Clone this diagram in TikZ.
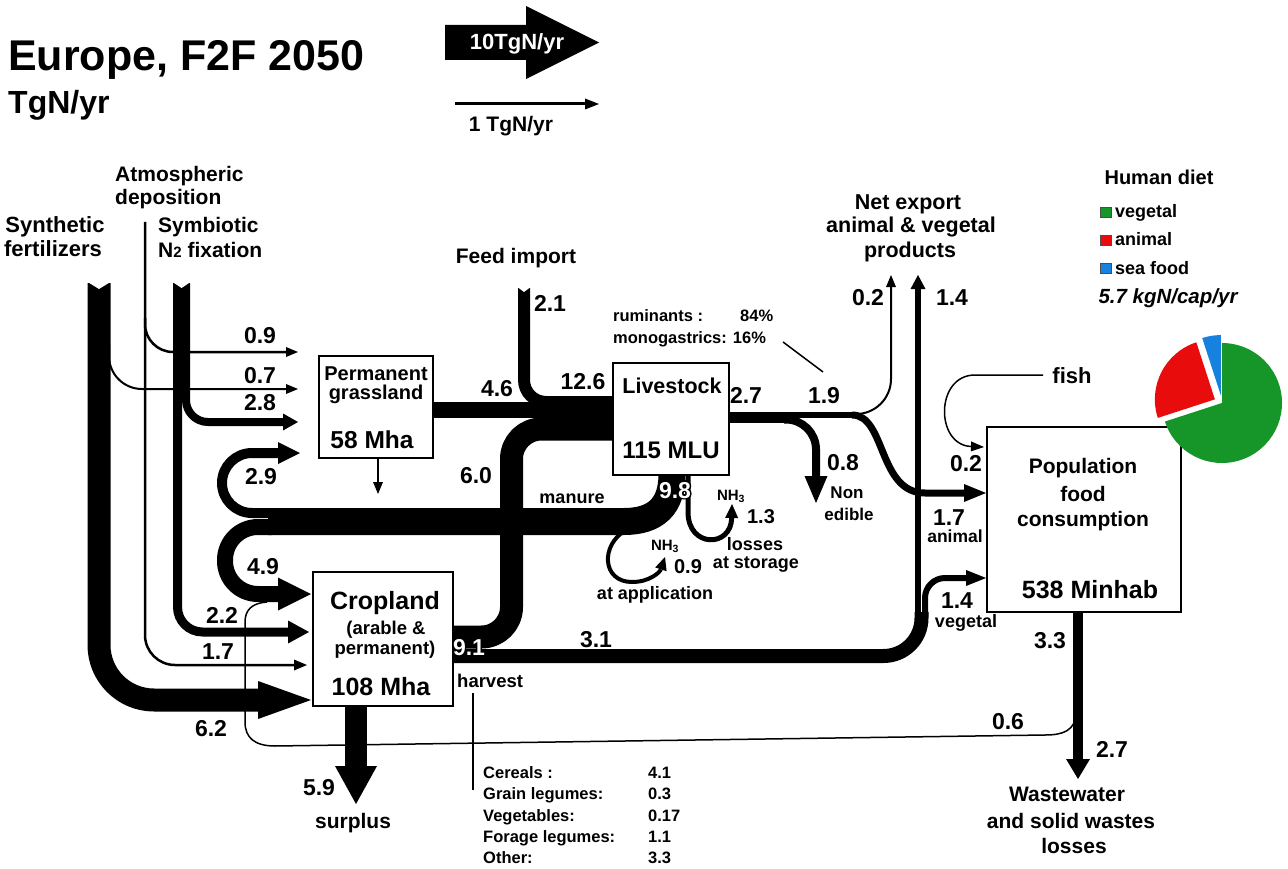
\documentclass[tikz,border=0pt]{standalone}
\usepackage{fontspec}
\setmainfont{Liberation Sans}
\usetikzlibrary{arrows.meta}
\definecolor{pgreen}{RGB}{22,150,40}
\definecolor{pred}{RGB}{232,12,12}
\definecolor{pblue}{RGB}{22,130,222}
\newcommand{\fsz}[1]{\fontsize{#1}{#1}\selectfont\bfseries}
\begin{document}
\begin{tikzpicture}[x=1pt,y=-1pt,
  fl/.style={line cap=butt,line join=round},
  ahead/.style 2 args={-{Triangle[length=#1pt,width=#2pt,line width=0pt]}},
  box/.style={draw=black,line width=1.8pt,fill=white,inner sep=0pt},
  num/.style={inner sep=0pt,anchor=base,font=\fsz{23}},
  txt/.style={inner sep=0pt,anchor=base},
  thin/.style={fl,line width=1.5pt},
]
\fill[white] (0,0) rectangle (1288,869);
\useasboundingbox (0,0) rectangle (1288,869);

% ---------- named coordinates ----------
\coordinate (sfTop) at (99,283);   \coordinate (sfEnd) at (311,700);
\coordinate (sfBr) at (109,345);   \coordinate (gIn2) at (298,389);
\coordinate (adTop) at (145,222);  \coordinate (adEnd) at (307,665);
\coordinate (adBr) at (145,318);   \coordinate (gIn1) at (298,352);
\coordinate (syTopA) at (186,283); \coordinate (gIn3) at (298,422);
\coordinate (syTopB) at (177.5,283); \coordinate (cIn2) at (309,632);
\coordinate (fiTop) at (524,288);  \coordinate (lsIn1) at (614,402);
\coordinate (grOut) at (432,410);  \coordinate (lsIn2) at (614,410);
\coordinate (crOut1) at (452,637); \coordinate (lsIn3) at (614,429);
\coordinate (crOut2) at (452,656); \coordinate (vBase) at (921.5,612);
\coordinate (neBase) at (918,616); \coordinate (neTip) at (918,275);
\coordinate (vgBase) at (925,616); \coordinate (popIn3) at (986,578);
\coordinate (lsOut) at (728,417.5); \coordinate (spl) at (792,417.5);
\coordinate (s19a) at (788,415);   \coordinate (s19b) at (856,415);
\coordinate (s08) at (784,419.5);  \coordinate (neTip2) at (816,503);
\coordinate (s02) at (850,414);    \coordinate (neTip3) at (891,275);
\coordinate (s17) at (852,415);    \coordinate (popIn1) at (986,493);
\coordinate (mnTop) at (672,474);  \coordinate (mnEnd) at (268,521.5);
\coordinate (lpA) at (272,513);    \coordinate (gIn4) at (300,453);
\coordinate (lpB) at (272,527);    \coordinate (cIn1) at (311,594);
\coordinate (stA) at (688,474);    \coordinate (stB) at (732,504);
\coordinate (apA) at (626,530);    \coordinate (apB) at (665,557);
\coordinate (grDn) at (378,459);   \coordinate (grDnE) at (378,494);
\coordinate (suA) at (356,705);    \coordinate (suB) at (356,804);
\coordinate (ppA) at (1078,612);   \coordinate (ppB) at (1078,779);
\coordinate (rcA) at (1077,712);   \coordinate (rcB) at (267,602);
\coordinate (fiA) at (1043,375);   \coordinate (popIn2) at (984,447);
\coordinate (hvA) at (473,693);    \coordinate (hvB) at (473,790);
\coordinate (ruA) at (783,342);    \coordinate (ruB) at (823,372);
\coordinate (lgA) at (455,104);    \coordinate (lgB) at (599,104);

% ---------- flows ----------
\draw[fl,line width=23pt,ahead={53}{38},rounded corners=55pt] (sfTop) -- (99,700) -- (sfEnd);
\draw[fl,line width=2pt,ahead={12}{10},rounded corners=33pt] (sfBr) -- (109,389) -- (gIn2);
\draw[fl,line width=2.5pt,ahead={13}{11},rounded corners=30pt] (adTop) -- (145,665) -- (adEnd);
\draw[fl,line width=2.5pt,ahead={12}{10},rounded corners=28pt] (adBr) -- (145,352) -- (gIn1);
\draw[fl,line width=8pt,ahead={15}{17},rounded corners=22pt] (syTopA) -- (186,422) -- (gIn3);
\draw[fl,line width=9pt,ahead={21}{23},rounded corners=25pt] (syTopB) -- (177.5,632) -- (cIn2);
% notches
\fill[white] (86,281) -- (99,289) -- (112,281) -- cycle;
\fill[white] (171,281) -- (181.5,288) -- (192,281) -- cycle;

% feed, grassland, cropland -> livestock
\draw[fl,line width=12pt,rounded corners=22pt] (fiTop) -- (524,402) -- (lsIn1);
\fill[white] (516,286) -- (524,292) -- (532,286) -- cycle;
\draw[fl,line width=16pt] (grOut) -- (lsIn2);
\draw[fl,line width=23pt,rounded corners=30pt] (crOut1) -- (511.5,637) -- (511.5,429) -- (lsIn3);

% 3.1 harvest to export / population
\draw[fl,line width=14pt,rounded corners=38pt] (crOut2) -- (921.5,656) -- (vBase);
\draw[fl,line width=6pt,ahead={14}{15}] (neBase) -- (neTip);
\draw[fl,line width=6pt,ahead={20}{16},rounded corners=20pt] (vgBase) -- (925,578) -- (popIn3);

% livestock products
\draw[fl,line width=11pt] (lsOut) -- (spl);
\draw[fl,line width=6pt] (s19a) -- (s19b);
\draw[fl,line width=8pt,ahead={27}{23},rounded corners=30pt] (s08) -- (816,419.5) -- (neTip2);
\draw[fl,line width=2pt,ahead={12}{10},rounded corners=35pt] (s02) -- (891,414) -- (neTip3);
\draw[fl,line width=7pt,ahead={22}{18}] (s17) .. controls (886,415) and (878,493) .. (925,493) -- (popIn1);

% manure
\draw[fl,line width=27pt] (mnTop) .. controls (672,506) and (656,521.5) .. (624,521.5) -- (mnEnd);
\draw[fl,line width=10pt,ahead={22}{22},rounded corners=30pt] (lpA) -- (222,513) -- (222,453) -- (gIn4);
\draw[fl,line width=16pt,ahead={33}{33},rounded corners=33pt] (lpB) -- (225,527) -- (225,594) -- (cIn1);
\draw[fl,line width=5pt,ahead={14}{13}] (stA) -- (688,512) .. controls (688,548) and (731,548) .. (stB);
\draw[fl,line width=4pt,ahead={13}{12}] (apA) .. controls (600,545) and (602,582) .. (632,582) .. controls (650,582) and (660,572) .. (apB);

% other flows
\draw[fl,line width=2pt,ahead={12}{10}] (grDn) -- (grDnE);
\draw[fl,line width=22pt,ahead={38}{42}] (suA) -- (suB);
\draw[fl,line width=9.5pt,ahead={20}{24}] (ppA) -- (ppB);
\draw[thin] (rcA) .. controls (1075,731) and (1063,735) .. (1045,735) -- (275,746)
  .. controls (255,746) and (245,738) .. (245,722) -- (245,622)
  .. controls (245,610) and (252,603) .. (rcB);
\draw[thin,ahead={13}{10}] (fiA) -- (975,375) .. controls (935,375) and (935,445) .. (popIn2);
\draw[thin] (hvA) -- (hvB);
\draw[thin] (ruA) -- (ruB);

% legend arrows
\fill[black] (445,25) -- (526,25) -- (526,6) -- (599,42.5) -- (526,79) -- (526,60) -- (445,60) -- cycle;
\node[txt,white,font=\fsz{22}] (l10) at (517,50) {10TgN/yr};
\draw[fl,line width=3pt,ahead={14}{11}] (lgA) -- (lgB);
\node[txt,font=\fsz{21}] (l1) at (511,132) {1 TgN/yr};

% ---------- boxes ----------
\node[box,minimum width=114pt,minimum height=102pt] (grass) at (376,407) {};
\node[box,minimum width=116pt,minimum height=112pt] (live) at (671,419) {};
\node[box,minimum width=140pt,minimum height=134pt] (crop) at (383,639) {};
\node[box,minimum width=194pt,minimum height=185pt] (pop) at (1084,519.5) {};

\node[txt,font=\fsz{20}] (gt1) at (376,380) {Permanent};
\node[txt,font=\fsz{20}] (gt2) at (376,399) {grassland};
\node[txt,font=\fsz{24.5}] (gt3) at (372,448) {58 Mha};
\node[txt,font=\fsz{21.5}] (lt1) at (672,393) {Livestock};
\node[txt,font=\fsz{24}] (lt2) at (671,458) {115 MLU};
\node[txt,font=\fsz{25}] (ct1) at (385,609) {Cropland};
\node[txt,font=\fsz{18.5}] (ct2) at (386,634) {(arable \&};
\node[txt,font=\fsz{18.5}] (ct3) at (385,654) {permanent)};
\node[txt,font=\fsz{25}] (ct4) at (381,695) {108 Mha};
\node[txt,font=\fsz{21}] (pt1) at (1083,473) {Population};
\node[txt,font=\fsz{21}] (pt2) at (1083,501) {food};
\node[txt,font=\fsz{21}] (pt3) at (1083,526) {consumption};
\node[txt,font=\fsz{25}] (pt4) at (1090,598) {538 Minhab};

% ---------- pie ----------
\begin{scope}[shift={(1222,403)},yscale=-1]
  \fill[pgreen] (0,0) -- (-162:60) arc[start angle=-162,end angle=90,radius=60] -- cycle;
  \fill[pred] (153:8) -- ++(108:60) arc[start angle=108,end angle=198,radius=60] -- cycle;
  \fill[pblue] (99:8) -- ++(90:60) arc[start angle=90,end angle=108,radius=60] -- cycle;
\end{scope}

% ---------- titles and labels ----------
\node[txt,anchor=base west,font=\fsz{43}] (title) at (8,71) {Europe, F2F 2050};
\node[txt,anchor=base west,font=\fsz{32}] (unit) at (8,114) {TgN/yr};

\node[txt,font=\fsz{22}] (s1) at (55,233) {Synthetic};
\node[txt,font=\fsz{22}] (s2) at (53,257) {fertilizers};
\node[txt,anchor=base west,font=\fsz{21}] (a1) at (115,182) {Atmospheric};
\node[txt,anchor=base west,font=\fsz{21}] (a2) at (115,205) {deposition};
\node[txt,anchor=base west,font=\fsz{21}] (b1) at (158,233) {Symbiotic};
\node[txt,anchor=base west,font=\fsz{21}] (b2) at (158,258) {N{\fsz{15}2} fixation};
\node[txt,font=\fsz{21}] (fi) at (516,264) {Feed import};
\node[txt,font=\fsz{21.5}] (ne1) at (908,210) {Net export};
\node[txt,font=\fsz{21.5}] (ne2) at (911,233) {animal \& vegetal};
\node[txt,font=\fsz{21.5}] (ne3) at (910,258) {products};

\node[txt,anchor=base west,font=\fsz{16.5}] (ru1) at (613,321) {ruminants :};
\node[txt,anchor=base west,font=\fsz{16.5}] (ru2) at (740,321) {84\%};
\node[txt,anchor=base west,font=\fsz{16.5}] (ru3) at (613,343) {monogastrics: 16\%};

\node[num] (n09) at (260,343) {0.9};
\node[num] (n07) at (260,383) {0.7};
\node[num] (n28) at (260,410) {2.8};
\node[num] (n29) at (261,484) {2.9};
\node[num] (n49) at (263,574) {4.9};
\node[num] (n22) at (222,623) {2.2};
\node[num] (n17a) at (218,659) {1.7};
\node[num] (n62) at (211,736) {6.2};
\node[num] (n46) at (497,396) {4.6};
\node[num] (n126) at (583,389) {12.6};
\node[num] (n21) at (550,311) {2.1};
\node[num] (n60) at (476,483) {6.0};
\node[num] (n31) at (596,647) {3.1};
\node[num] (n59) at (319,795) {5.9};
\node[num] (n27) at (746,403) {2.7};
\node[num] (n19) at (824,403) {1.9};
\node[num] (n08) at (843,470) {0.8};
\node[num] (n02a) at (868,305) {0.2};
\node[num] (n14a) at (952,305) {1.4};
\node[num] (n02b) at (966,471) {0.2};
\node[num] (n17b) at (949,525) {1.7};
\node[num] (n14b) at (957,608) {1.4};
\node[num] (n33) at (1050,648) {3.3};
\node[num] (n06) at (1008,729) {0.6};
\node[num] (n27b) at (1112,757) {2.7};
\node[num,font=\fsz{20}] (n13) at (761,523) {1.3};
\node[num,font=\fsz{20}] (n09b) at (688,573) {0.9};

% outlined white numbers
\foreach \dx/\dy [count=\i] in {-1.3/0,1.3/0,0/-1.3,0/1.3,-1/-1,1/1,-1/1,1/-1}{
  \node[num,black,xshift=\dx pt,yshift=\dy pt] (oa\i) at (675,498) {9.8};
  \node[num,black,xshift=\dx pt,yshift=\dy pt] (ob\i) at (469,655) {9.1};
}
\node[num,white] (n98) at (675,498) {9.8};
\node[num,white] (n91) at (469,655) {9.1};

\node[txt,font=\fsz{18}] (mn) at (572,503) {manure};
\node[txt,font=\fsz{15}] (nh1) at (731,500) {NH\textsubscript{3}};
\node[txt,font=\fsz{15}] (nh2) at (665,550) {NH\textsubscript{3}};
\node[txt,font=\fsz{18}] (ls1) at (755,550) {losses};
\node[txt,font=\fsz{18}] (ls2) at (756,568) {at storage};
\node[txt,font=\fsz{18}] (ap) at (655,599) {at application};
\node[txt,font=\fsz{17}] (ned1) at (847,498) {Non};
\node[txt,font=\fsz{17}] (ned2) at (849,520) {edible};
\node[txt,font=\fsz{17.5}] (an) at (955,542) {animal};
\node[txt,font=\fsz{18}] (vg) at (966,627) {vegetal};
\node[txt,font=\fsz{22}] (fish) at (1072,383) {fish};
\node[txt,anchor=base west,font=\fsz{18.5}] (hv) at (457,687) {harvest};

\node[txt,anchor=base west,font=\fsz{16.5}] (h1) at (483,778) {Cereals :};
\node[txt,anchor=base west,font=\fsz{16.5}] (h2) at (483,799) {Grain legumes:};
\node[txt,anchor=base west,font=\fsz{16.5}] (h3) at (483,821) {Vegetables:};
\node[txt,anchor=base west,font=\fsz{16.5}] (h4) at (483,842) {Forage legumes:};
\node[txt,anchor=base west,font=\fsz{16.5}] (h5) at (483,863) {Other:};
\node[txt,anchor=base west,font=\fsz{16.5}] (v1) at (648,778) {4.1};
\node[txt,anchor=base west,font=\fsz{16.5}] (v2) at (648,799) {0.3};
\node[txt,anchor=base west,font=\fsz{16.5}] (v3) at (648,821) {0.17};
\node[txt,anchor=base west,font=\fsz{16.5}] (v4) at (648,842) {1.1};
\node[txt,anchor=base west,font=\fsz{16.5}] (v5) at (648,863) {3.3};

\node[txt,font=\fsz{21}] (sp) at (353,828) {surplus};
\node[txt,font=\fsz{21}] (w1) at (1067,801) {Wastewater};
\node[txt,font=\fsz{21}] (w2) at (1071,828) {and solid wastes};
\node[txt,font=\fsz{21}] (w3) at (1074,853) {losses};

% legend
\node[txt,font=\fsz{20}] (hd) at (1159,185) {Human diet};
\node[draw=black!70,fill=pgreen,line width=0.8pt,minimum width=11pt,minimum height=10pt,inner sep=0pt] (lg1) at (1106,212) {};
\node[draw=black!70,fill=pred,line width=0.8pt,minimum width=11pt,minimum height=10pt,inner sep=0pt] (lg2) at (1106,240) {};
\node[draw=black!70,fill=pblue,line width=0.8pt,minimum width=11pt,minimum height=10pt,inner sep=0pt] (lg3) at (1106,268) {};
\node[txt,anchor=base west,font=\fsz{18}] (lt1x) at (1115,218) {vegetal};
\node[txt,anchor=base west,font=\fsz{18}] (lt2x) at (1115,246) {animal};
\node[txt,anchor=base west,font=\fsz{18}] (lt3x) at (1115,274) {sea food};
\node[txt,font=\fsz{20.5}\itshape] (kg) at (1168,303) {5.7 kgN/cap/yr};
\end{tikzpicture}
\end{document}
